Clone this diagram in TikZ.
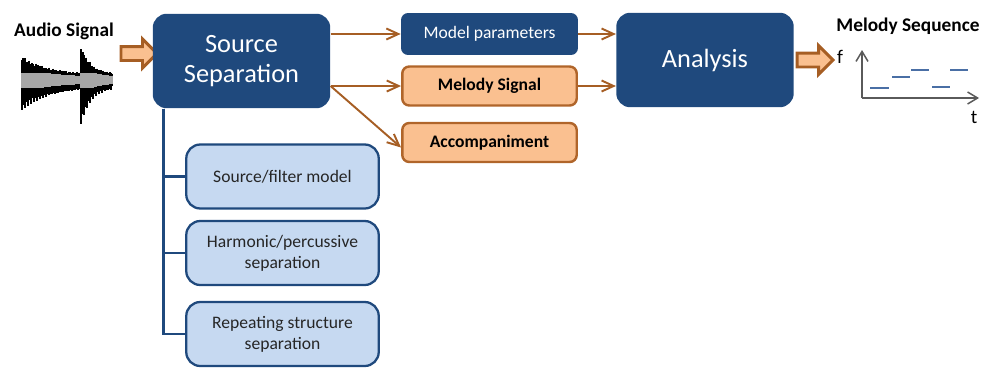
\documentclass[tikz,border=0pt]{standalone}
\usepackage{fontspec}
\setmainfont{Carlito}
\usetikzlibrary{shapes.arrows, arrows.meta}
\definecolor{darkblue}{HTML}{1F497D}
\definecolor{lightblue}{HTML}{C6D9F1}
\definecolor{lightorange}{HTML}{FAC090}
\definecolor{rust}{HTML}{A65E24}
\definecolor{rustline}{HTML}{B0652A}
\definecolor{axisgray}{HTML}{5A5A5A}
\definecolor{notecolor}{HTML}{4A6FA5}
\tikzstyle{bigbox} = [rectangle, rounded corners=0.28cm, minimum width=3.55cm, minimum height=1.89cm, align=center, fill=darkblue, text=white, font=\fontsize{15}{17}\selectfont]
\tikzstyle{param} = [rectangle, rounded corners=0.14cm, minimum width=3.54cm, minimum height=0.84cm, fill=darkblue, text=white, font=\fontsize{10}{12}\selectfont]
\tikzstyle{signal} = [rectangle, rounded corners=0.14cm, minimum width=3.49cm, minimum height=0.78cm, draw=rustline, line width=1.4pt, fill=lightorange, font=\bfseries\fontsize{10}{12}\selectfont]
\tikzstyle{method} = [rectangle, rounded corners=0.28cm, minimum width=3.85cm, minimum height=1.28cm, align=center, draw=darkblue, line width=1.3pt, fill=lightblue, text=black!85, font=\fontsize{10}{12}\selectfont]
\tikzstyle{headline} = [font=\bfseries\fontsize{11}{13}\selectfont]
\tikzstyle{arrow} = [rust, line width=1.1pt, -{Straight Barb[length=2.4mm,width=2.2mm]}]
\tikzstyle{fatarrow} = [single arrow, draw=rust, line width=1.7pt, fill=lightorange, inner sep=0.11cm, single arrow head extend=0.15cm, minimum height=0.72cm]
\tikzstyle{branch} = [darkblue, line width=1.4pt]
\tikzstyle{axis} = [axisgray, line width=0.85pt, -{Straight Barb[length=2mm,width=2.4mm]}]
\tikzstyle{note} = [notecolor, line width=1.1pt]

\begin{document}
\begin{tikzpicture}[x=0.02cm, y=-0.02cm]
\useasboundingbox (0,0) rectangle (987,369);

%Audio signal
\node (audio_label) [headline] at (64,31) {Audio Signal};
\foreach \x in {22,...,112} {
  \pgfmathsetmacro{\amp}{\x<81 ? (5+17*exp(-(\x-22)/28)) : (6+26*exp(-(\x-81)/10))}
  \pgfmathsetmacro{\jup}{0.65+0.3*abs(sin(\x*97))+0.2*abs(sin(\x*53))}
  \pgfmathsetmacro{\jdn}{0.7+0.3*abs(sin(\x*61))+0.2*abs(sin(\x*119))}
  \pgfmathsetmacro{\g}{min(7.5,0.6*\amp)}
  \draw[black, line width=0.7pt] (\x,{80-0.95*\amp*\jup}) -- (\x,{80+1.15*\amp*\jdn});
  \draw[black!35, line width=0.7pt] (\x,{80-\g}) -- (\x,{80+\g});
}
\node (audio_in) [fatarrow] at (135.5,53.5) {};

%Source separation
\node (src_sep) [bigbox] at (241.5,61) {Source\\Separation};
\node (filter_model) [method] at (282.5,176.5) {Source/filter model};
\node (harm_perc) [method] at (282.5,253) {Harmonic/percussive\\separation};
\node (repeat_struct) [method] at (282.5,334) {Repeating structure\\separation};

\coordinate (trunk) at ([xshift=0.22cm]src_sep.south west);
\draw [branch] (trunk) |- (filter_model.west);
\draw [branch] (trunk) |- (harm_perc.west);
\draw [branch] (trunk) |- (repeat_struct.west);

%Outputs
\node (model_params) [param] at (489.5,34) {Model parameters};
\node (melody_signal) [signal] at (489.5,86) {Melody Signal};
\node (accomp) [signal] at (489.5,142.5) {Accompaniment};

\draw [arrow] (model_params.west -| src_sep.east) -- (model_params.west);
\draw [arrow] (melody_signal.west -| src_sep.east) -- (melody_signal.west);
\draw [arrow] (melody_signal.west -| src_sep.east) -- ([yshift=-0.1cm]accomp.west);

%Analysis
\node (analysis) [bigbox] at (705,60) {Analysis};
\draw [arrow] (model_params.east) -- (model_params.east -| analysis.west);
\draw [arrow] (melody_signal.east) -- (melody_signal.east -| analysis.west);
\node (melody_out) [fatarrow] at (811.5,60) {};

%Melody sequence
\node (melody_label) [headline] at (908,26) {Melody Sequence};
\node (f_label) [font=\fontsize{11}{13}\selectfont] at (840,57) {f};
\node (t_label) [font=\fontsize{11}{13}\selectfont] at (974,117) {t};
\coordinate (origin) at (862,98);
\coordinate (f_top) at (862,50);
\coordinate (t_end) at (979,98);
\draw [axis] (origin) -- (f_top);
\draw [axis] (origin) -- (t_end);
\draw [note] (870,88) -- (889,88);
\draw [note] (892,77) -- (910,77);
\draw [note] (911,70) -- (929,70);
\draw [note] (932,87) -- (950,87);
\draw [note] (950,70) -- (968,70);

\end{tikzpicture}
\end{document}
